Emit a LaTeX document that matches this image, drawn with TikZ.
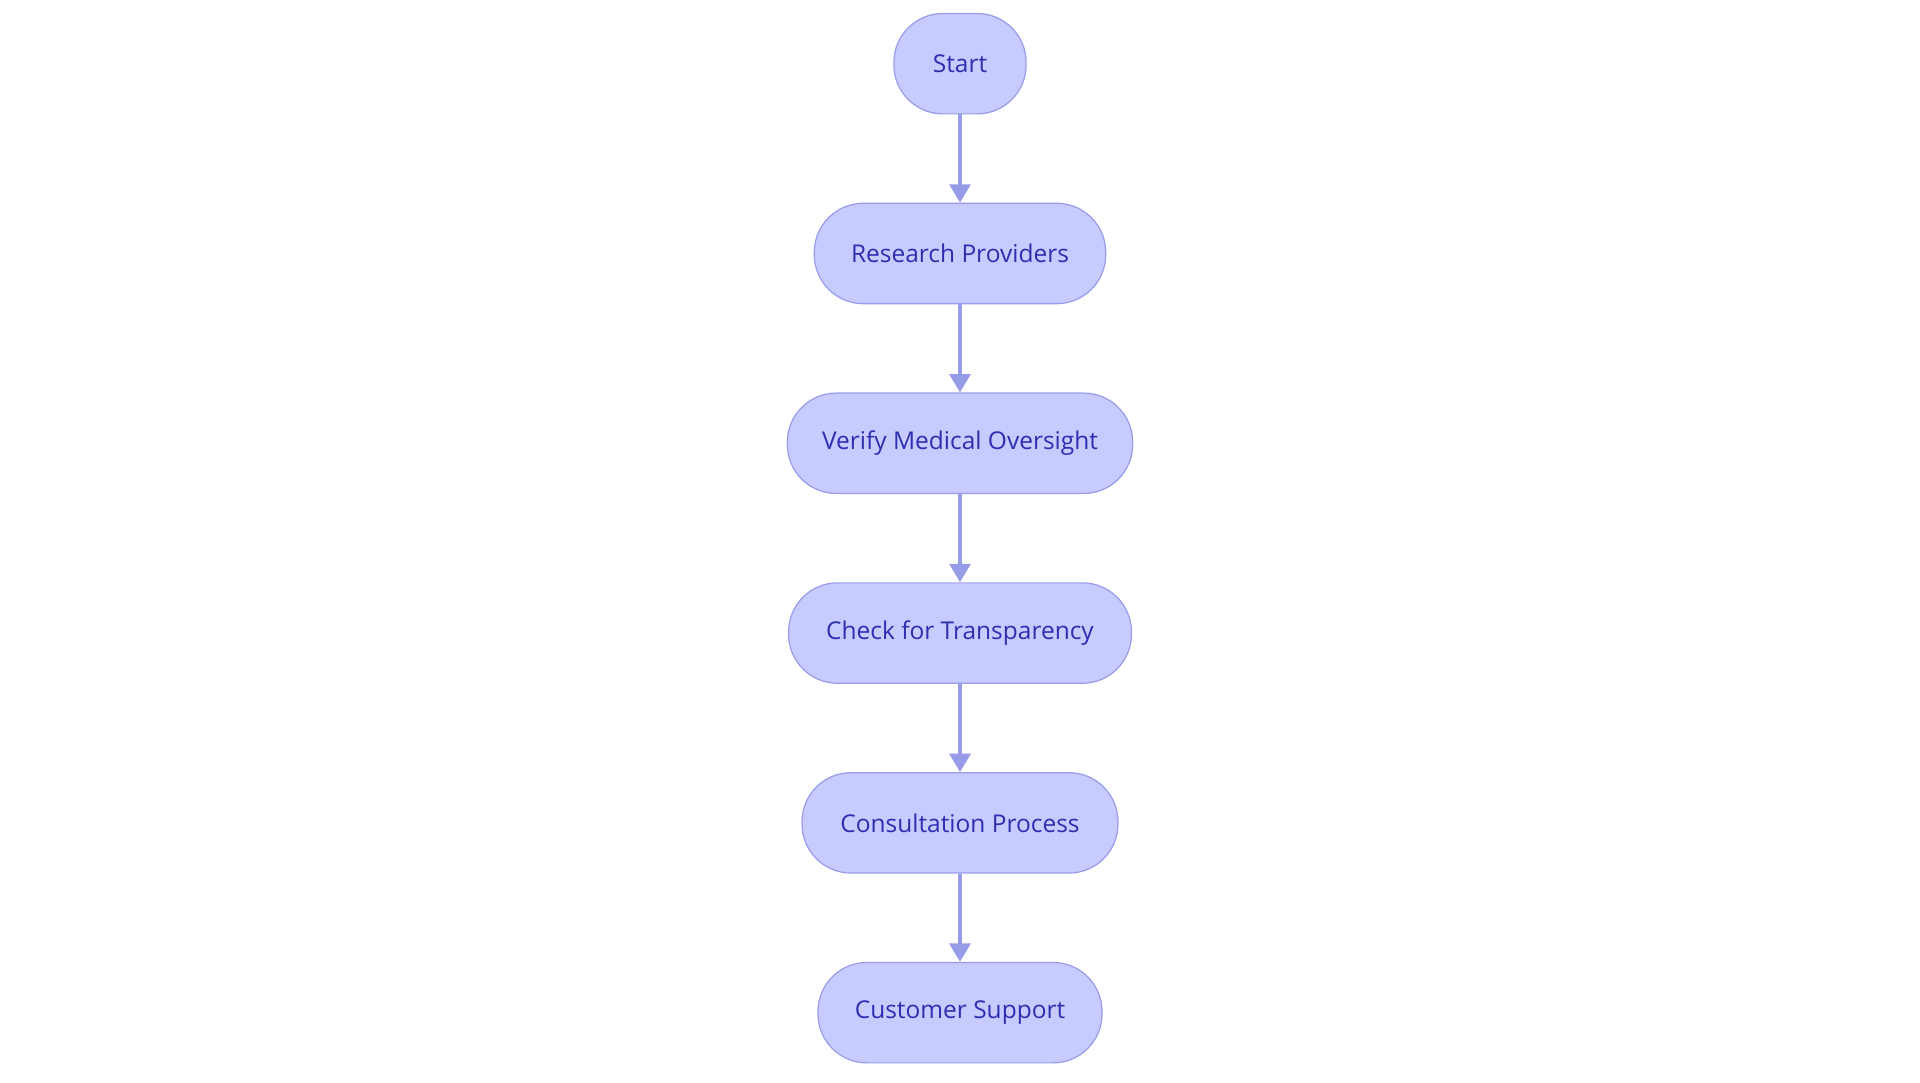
\documentclass[tikz,border=0pt]{standalone}
\usepackage{fontspec}
\setmainfont{Open Sans}
\usetikzlibrary{arrows.meta}
\definecolor{nfill}{HTML}{C8CBFF}
\definecolor{nline}{HTML}{9A9CEB}
\definecolor{ntext}{HTML}{2E2EB0}
\definecolor{aline}{HTML}{979CE8}
\begin{document}
\begin{tikzpicture}[x=1pt,y=-1pt,
 box/.style={draw=nline,fill=nfill,line width=1pt,rounded corners=40pt,minimum height=82pt,text=ntext,font=\fontsize{20}{24}\selectfont,inner sep=0pt},
 arr/.style={draw=aline,line width=3pt,-{Triangle[length=15pt,width=17pt]}}]
\useasboundingbox (0,0) rectangle (1568,884);
\node[box,minimum width=108pt] (s) at (784,52) {Start};
\node[box,minimum width=238pt] (r) at (784,207) {Research Providers};
\node[box,minimum width=282pt] (v) at (784,362) {Verify Medical Oversight};
\node[box,minimum width=280pt] (c) at (784,517) {Check for Transparency};
\node[box,minimum width=258pt] (p) at (784,672) {Consultation Process};
\node[box,minimum width=232pt] (u) at (784,827) {Customer Support};
\draw[arr] (s) -- (r);
\draw[arr] (r) -- (v);
\draw[arr] (v) -- (c);
\draw[arr] (c) -- (p);
\draw[arr] (p) -- (u);
\end{tikzpicture}
\end{document}
